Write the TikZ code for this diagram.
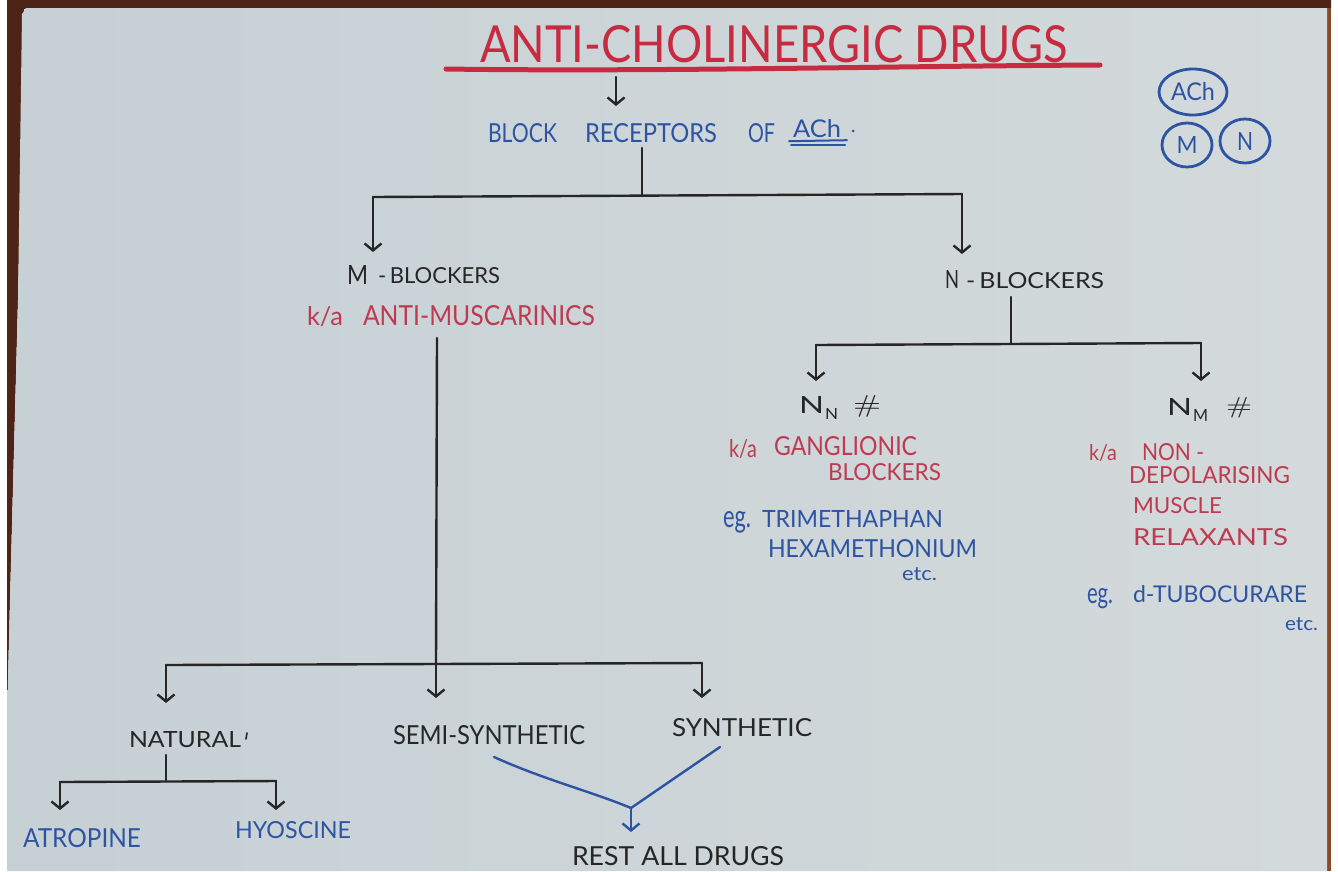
\documentclass[tikz,border=0pt]{standalone}
\usepackage{fontspec}
\usepackage{graphicx}
\setmainfont{Lato}
\newfontfamily\hashfont{Latin Modern Roman}
\usetikzlibrary{arrows.meta,shapes.geometric}

\definecolor{paperL}{HTML}{C6D0D5}
\definecolor{paperR}{HTML}{D4DADB}
\definecolor{frame}{HTML}{4E2416}
\definecolor{frameR}{HTML}{8A4A2A}
\definecolor{redink}{HTML}{C62B40}
\definecolor{redtxt}{HTML}{BE3A50}
\definecolor{blueink}{HTML}{2D54A2}
\definecolor{blackink}{HTML}{262626}

% squeeze a piece of lettering into a given width and cap height (in pt)
\newcommand\fitbox[3]{\resizebox{#1pt}{#2pt}{#3}}

\tikzset{
  lbl/.style={anchor=base west, inner sep=0pt, outer sep=0pt},
  ink/.style={draw=blackink, line width=2.4pt, line cap=round, line join=round},
  arr/.style={ink, -{Straight Barb[length=7pt,width=17pt]}},
  bink/.style={draw=blueink, line width=2.4pt, line cap=round, line join=round},
  barr/.style={bink, -{Straight Barb[length=7pt,width=17pt]}},
  ring/.style={ellipse, draw=blueink, line width=2.8pt, inner sep=0pt, text=blueink},
}

\begin{document}
\begin{tikzpicture}[x=1pt, y=-1pt]
  % sheet and its surroundings
  \useasboundingbox (0,0) rectangle (1338,871);
  \clip (0,0) rectangle (1338,871);
  \fill[white] (0,0) rectangle (1338,871);
  \fill[frame] (7,0) -- (1331,0) -- (1331,8) -- (24,9) -- (18,300) -- (10,600) -- (7,720) -- cycle;
  \fill[frameR] (1327,8) rectangle (1331,871);
  \shade[left color=paperL, right color=paperR]
    (26,8) -- (1327,8) -- (1327,871) -- (7,871) -- (7,720) -- (10,600) -- (18,300) -- (22,14) -- cycle;

  % title
  \node[lbl, text=redink] (title) at (480,62) {\fitbox{588}{37}{ANTI-CHOLINERGIC DRUGS}};
  \coordinate (ulA) at (446,69);
  \coordinate (ulB) at (1100,65);
  \draw[redink, line width=5pt, line cap=round] (ulA) .. controls (650,72) and (900,66) .. (ulB);

  \coordinate (t0) at (616,77);
  \coordinate (t1) at (616,106);
  \draw[arr] (t0) -- (t1);

  % first level
  \node[lbl, text=blueink] (wBlock) at (488,142) {\fitbox{69}{19}{BLOCK}};
  \node[lbl, text=blueink] (wRec) at (585,142) {\fitbox{132}{19}{RECEPTORS}};
  \node[lbl, text=blueink] (wOf) at (748,142) {\fitbox{27}{19}{OF}};
  \node[lbl, text=blueink] (wAch) at (793,137) {\fitbox{48}{18}{ACh}};
  \draw[bink, line width=2pt] (wAch.south west) ++(-4,4) -- ++(58,-1);
  \draw[bink, line width=2pt] (wAch.south west) ++(-2,8) -- ++(54,0);
  \fill[blueink] (853,131) circle (1.5);

  \coordinate (b0) at (642,148);
  \coordinate (b1) at (642,196);
  \coordinate (bL) at (373,197);
  \coordinate (bR) at (962,194);
  \coordinate (bLt) at (373,252);
  \coordinate (bRt) at (962,254);
  \draw[ink] (b0) -- (b1);
  \draw[ink] (bL) -- (bR);
  \draw[arr] (bL) -- (bLt);
  \draw[arr] (bR) -- (bRt);

  % muscarinic branch
  \node[lbl, text=blackink] (mM) at (347,284) {\fitbox{21}{19}{M}};
  \node[lbl, text=blackink] (mBlk) at (378,283) {\fitbox{122}{16}{-\,BLOCKERS}};
  \node[lbl, text=redtxt] (mKa) at (307,325) {\fitbox{36}{19}{k/a}};
  \node[lbl, text=redtxt] (mAnti) at (363,325) {\fitbox{232}{20}{ANTI-MUSCARINICS}};

  \coordinate (m0) at (437,338);
  \coordinate (m1) at (436,664);
  \coordinate (mL) at (166,665);
  \coordinate (mR) at (702,663);
  \coordinate (mLt) at (166,703);
  \coordinate (mCt) at (436,698);
  \coordinate (mRt) at (702,698);
  \draw[ink] (m0) -- (m1);
  \draw[ink] (mL) -- (mR);
  \draw[arr] (mL) -- (mLt);
  \draw[arr] (m1) -- (mCt);
  \draw[arr] (mR) -- (mRt);

  \node[lbl, text=blackink] (nat) at (129,747) {\fitbox{112}{16}{NATURAL}};
  \draw[blackink, line width=1.6pt, line cap=round] (247,733) -- (246,739);
  \node[lbl, text=blackink] (semi) at (393,744) {\fitbox{192}{19}{SEMI-SYNTHETIC}};
  \node[lbl, text=blackink] (syn) at (672,736) {\fitbox{140}{18}{SYNTHETIC}};

  \coordinate (n0) at (166,755);
  \coordinate (n1) at (166,780);
  \coordinate (nL) at (60,782);
  \coordinate (nR) at (276,781);
  \coordinate (nLt) at (60,810);
  \coordinate (nRt) at (276,810);
  \draw[ink] (n0) -- (n1);
  \draw[ink] (nL) -- (nR);
  \draw[arr] (nL) -- (nLt);
  \draw[arr] (nR) -- (nRt);
  \node[lbl, text=blueink] (atro) at (23,847) {\fitbox{118}{19}{ATROPINE}};
  \node[lbl, text=blueink] (hyo) at (235,838) {\fitbox{116}{17}{HYOSCINE}};

  \coordinate (v1) at (494,757);
  \coordinate (v2) at (720,747);
  \coordinate (v0) at (631,808);
  \coordinate (vt) at (631,832);
  \draw[bink] (v1) .. controls (545,780) and (590,791) .. (v0) -- (v2);
  \draw[barr] (v0) -- (vt);
  \node[lbl, text=blackink] (rest) at (572,865) {\fitbox{212}{19}{REST ALL DRUGS}};

  % nicotinic branch
  \node[lbl, text=blackink] (nN) at (945,288) {\fitbox{14}{18}{N}};
  \node[lbl, text=blackink] (nBlk) at (966,288) {\fitbox{138}{16}{-\,BLOCKERS}};
  \coordinate (k0) at (1011,297);
  \coordinate (k1) at (1011,344);
  \coordinate (kL) at (816,345);
  \coordinate (kR) at (1201,343);
  \coordinate (kLt) at (816,381);
  \coordinate (kRt) at (1201,381);
  \draw[ink] (k0) -- (k1);
  \draw[ink] (kL) -- (kR);
  \draw[arr] (kL) -- (kLt);
  \draw[arr] (kR) -- (kRt);

  % ganglionic receptors
  \node[lbl, text=blackink] (nnA) at (799,413) {\fitbox{25}{17}{N}};
  \node[lbl, text=blackink] (nnB) at (825,419) {\fitbox{13}{11}{N}};
  \node[lbl, text=blackink] (nnH) at (853,412) {\fitbox{28}{17}{\hashfont\#}};
  \node[lbl, text=redtxt] (gKa) at (729,457) {\fitbox{28}{18}{k/a}};
  \node[lbl, text=redtxt] (gGan) at (774,455) {\fitbox{143}{19}{GANGLIONIC}};
  \node[lbl, text=redtxt] (gBlk) at (828,480) {\fitbox{113}{17}{BLOCKERS}};
  \node[lbl, text=blueink] (gEg) at (723,527) {\fitbox{28}{16}{eg.}};
  \node[lbl, text=blueink] (gTri) at (762,527) {\fitbox{181}{17}{TRIMETHAPHAN}};
  \node[lbl, text=blueink] (gHex) at (768,557) {\fitbox{209}{18}{HEXAMETHONIUM}};
  \node[lbl, text=blueink] (gEtc) at (902,580) {\fitbox{35}{13}{etc.}};

  % neuromuscular receptors
  \node[lbl, text=blackink] (nmA) at (1167,415) {\fitbox{25}{17}{N}};
  \node[lbl, text=blackink] (nmB) at (1193,421) {\fitbox{15}{12}{M}};
  \node[lbl, text=blackink] (nmH) at (1226,413) {\fitbox{26}{16}{\hashfont\#}};
  \node[lbl, text=redtxt] (rKa) at (1089,460) {\fitbox{28}{16}{k/a}};
  \node[lbl, text=redtxt] (rNon) at (1142,460) {\fitbox{62}{17}{NON -}};
  \node[lbl, text=redtxt] (rDep) at (1129,483) {\fitbox{161}{17}{DEPOLARISING}};
  \node[lbl, text=redtxt] (rMus) at (1133,513) {\fitbox{89}{16}{MUSCLE}};
  \node[lbl, text=redtxt] (rRel) at (1133,545) {\fitbox{155}{17}{RELAXANTS}};
  \node[lbl, text=blueink] (rEg) at (1087,603) {\fitbox{26}{15}{eg.}};
  \node[lbl, text=blueink] (rTubo) at (1133,602) {\fitbox{174}{17}{d-TUBOCURARE}};
  \node[lbl, text=blueink] (rEtc) at (1285,630) {\fitbox{33}{13}{etc.}};

  % receptor key
  \node[ring, minimum width=68pt, minimum height=46pt] (kAch) at (1193,92) {\fitbox{44}{18}{ACh}};
  \node[ring, minimum width=50pt, minimum height=44pt] (kM) at (1187,145) {\fitbox{21}{17}{M}};
  \node[ring, minimum width=50pt, minimum height=44pt] (kN) at (1245,141) {\fitbox{16}{18}{N}};
\end{tikzpicture}
\end{document}
